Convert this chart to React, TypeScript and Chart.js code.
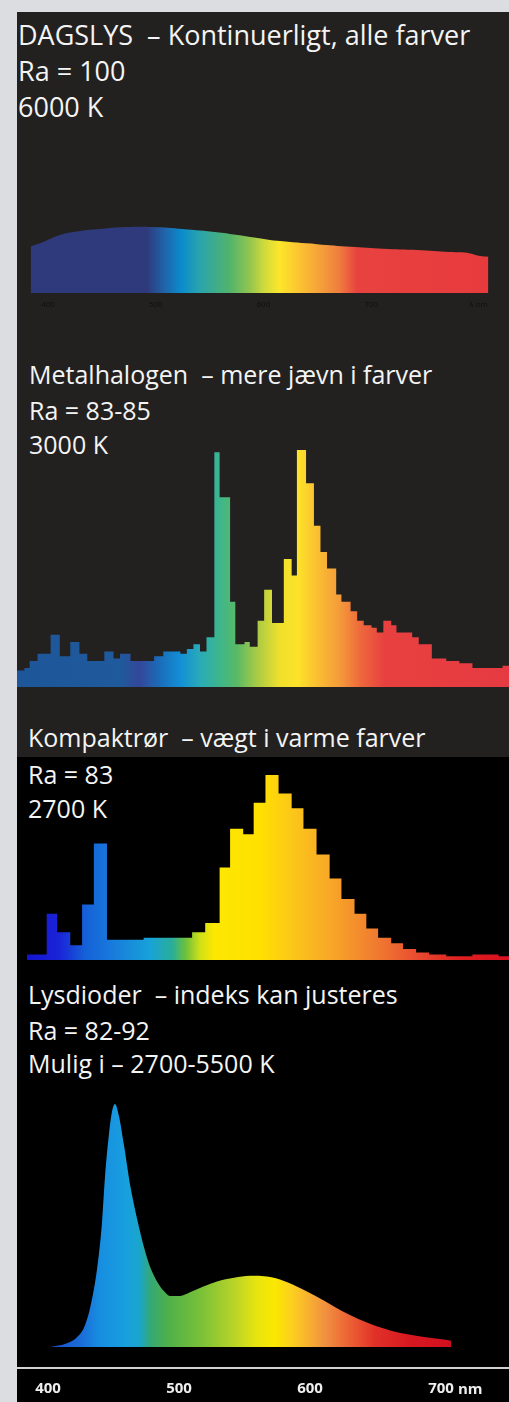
import React, { useEffect, useRef } from 'react';
import { Chart, registerables } from 'chart.js';

Chart.register(...registerables);

// ---------- DATA ----------
// Daylight (continuous spectrum), wavelength in nm, relative intensity
const daylightNm = [384, 395, 411, 430, 448, 473, 498, 525, 557, 588, 613, 650, 681, 711, 743, 773, 789, 801, 809];
const daylightIntensity = [71, 77, 88, 94, 97, 100, 100, 97, 92, 85, 79, 74, 70, 67, 65, 62, 61, 56, 55];
const daylightTicks = [400, 500, 600, 700, 800];
const daylightTickLabels = ['400', '500', '600', '700', 'λ nm'];

// Metal halide: bin edges (nm) and bin values
const metalEdgesNm = [376, 382, 386, 392, 402, 409, 417, 424, 430, 443, 450, 455, 463, 473, 481, 488, 501, 506, 511, 516, 521, 527, 531, 539, 543, 550, 554, 560, 565, 571, 575, 580, 586, 590, 597, 603, 608, 613, 620, 624, 631, 636, 641, 647, 651, 656, 662, 666, 672, 678, 683, 693, 704, 714, 724, 739, 747, 752];
const metalValues = [7, 8, 11, 14, 22, 13, 19, 14, 11, 15, 12, 14, 11, 11, 13, 15, 14, 16, 18, 15, 21, 99, 80, 36, 18, 19, 17, 28, 41, 27, 27, 54, 47, 100, 86, 68, 57, 50, 39, 36, 32, 28, 26, 25, 23, 28, 26, 23, 23, 21, 18, 12, 11, 10, 8, 8, 9];

// Compact fluorescent: bin edges (nm) and bin values
const compactEdgesNm = [384, 399, 407, 417, 426, 435, 445, 454, 464, 473, 483, 492, 501, 510, 520, 531, 539, 549, 557, 566, 576, 586, 595, 605, 615, 624, 634, 643, 652, 662, 671, 681, 691, 704, 724, 744, 752];
const compactValues = [3, 25, 15, 8, 30, 63, 11, 11, 11, 12, 12, 12, 12, 15, 20, 50, 71, 68, 85, 100, 90, 82, 71, 57, 44, 33, 25, 17, 12, 9, 6, 4, 3, 2, 3, 2];

// LED: wavelength (nm) and relative intensity
const ledNm = [401.5, 414.5, 422.1, 427.5, 432.1, 437.4, 441.2, 443.5, 446.6, 448.9, 451.1, 454.2, 458.0, 462.6, 467.9, 473.3, 477.9, 483.2, 488.5, 493.1, 500.8, 508.4, 519.1, 529.0, 542.0, 554.2, 567.2, 574.0, 586.3, 599.2, 612.2, 624.4, 637.4, 650.4, 662.6, 675.6, 688.5, 703.8, 707.6];
const ledIntensity = [0, 1.5, 4, 8, 16, 32, 51, 70, 88, 97, 100, 95, 83, 67, 53, 41, 33, 27, 23, 21, 21, 22.5, 25, 27, 28.5, 29.3, 29, 28.3, 25.8, 22.4, 18.6, 14.8, 11.4, 8.6, 6.6, 5.1, 4, 3, 2.6];
const bottomTicks = [400, 500, 600, 700];
const bottomTickLabels = ['400', '500', '600', '700'];

// ---------- STYLES (colour stops by wavelength) ----------
const daylightStops: [number, string][] = [
  [384, '#2e3a7c'], [492, '#2e3a7c'], [509, '#1f66ac'], [524, '#0a8ccc'], [541, '#2aa4ac'],
  [569, '#52b46a'], [588, '#94c64e'], [601, '#d0da3c'], [615, '#fce62a'], [634, '#fbc232'],
  [653, '#f5a03a'], [671, '#ef7c3e'], [687, '#e8423f'], [809, '#e83a3d'],
];
const metalStops: [number, string][] = [
  [376, '#1d5699'], [455, '#1f5a9c'], [470, '#34479a'], [485, '#1a6cb8'], [501, '#128fd6'],
  [516, '#2aabb8'], [529, '#3ab592'], [544, '#58ba66'], [559, '#a6ca46'], [577, '#f0e02c'],
  [591, '#fde22a'], [604, '#fbc230'], [623, '#f49a3a'], [638, '#ee6a3c'], [657, '#e8403f'], [752, '#e63a42'],
];
const compactStops: [number, string][] = [
  [384, '#1414d0'], [409, '#1a24d8'], [428, '#1560d8'], [447, '#1878dc'], [478, '#18a2d8'],
  [495, '#2aae98'], [505, '#6cc03c'], [516, '#cfe018'], [527, '#fde800'], [562, '#ffe000'],
  [585, '#fcc818'], [615, '#f8a828'], [653, '#f07830'], [684, '#e84830'], [714, '#dc2020'], [752, '#d81020'],
];
const ledStops: [number, string][] = [
  [401, '#1a50c8'], [424, '#1a6ad8'], [440, '#188ee0'], [459, '#189fdf'], [470, '#1aa6cc'],
  [478, '#34a878'], [491, '#4eb04a'], [516, '#78c038'], [542, '#b8d428'], [559, '#e8e410'],
  [573, '#fae800'], [586, '#fcd020'], [599, '#f8b030'], [612, '#f09040'], [624, '#ee7038'],
  [637, '#e85030'], [650, '#e03028'], [676, '#d81820'], [708, '#d01020'],
];

const FONT = '"Open Sans", "Noto Sans", sans-serif';

function makeGradient(chart: any, stops: [number, string][]) {
  const { ctx, chartArea, scales } = chart;
  if (!chartArea || !scales.x) return 'rgba(0,0,0,0)';
  const x0 = chartArea.left;
  const x1 = chartArea.right;
  const g = ctx.createLinearGradient(x0, 0, x1, 0);
  stops.forEach(([nm, c]) => {
    const p = (scales.x.getPixelForValue(nm) - x0) / (x1 - x0);
    g.addColorStop(Math.min(1, Math.max(0, p)), c);
  });
  return g;
}

type AxisSpec = {
  ticks: number[];
  labels: string[];
  color: string;
  size: number;
  weight: string;
  padding: number;
  height: number;
  border: boolean;
};

type SpecProps = {
  left: number;
  top: number;
  width: number;
  height: number;
  xs: number[];
  ys: number[];
  xMin: number;
  xMax: number;
  yMin: number;
  yMax: number;
  stops: [number, string][];
  stepped?: boolean;
  smooth?: 'tension' | 'monotone';
  axis?: AxisSpec;
};

function Spectrum(props: SpecProps) {
  const ref = useRef<HTMLCanvasElement>(null);
  useEffect(() => {
    const canvas = ref.current!;
    const { xs, ys, stops, axis } = props;
    const data = xs.map((x, i) => ({ x, y: ys[Math.min(i, ys.length - 1)] }));
    const chart = new Chart(canvas, {
      type: 'line',
      data: {
        datasets: [
          {
            data,
            stepped: props.stepped ? 'before' : false,
            tension: props.smooth === 'tension' ? 0.4 : 0,
            cubicInterpolationMode: props.smooth === 'monotone' ? 'monotone' : 'default',
            fill: 'origin',
            borderWidth: 0,
            borderColor: 'rgba(0,0,0,0)',
            pointRadius: 0,
            backgroundColor: (c: any) => makeGradient(c.chart, stops),
          } as any,
        ],
      },
      options: {
        animation: false,
        responsive: false,
        maintainAspectRatio: false,
        events: [],
        layout: { padding: 0 },
        plugins: { legend: { display: false }, tooltip: { enabled: false } },
        scales: {
          x: {
            type: 'linear',
            min: props.xMin,
            max: props.xMax,
            display: !!axis,
            grid: { display: false, drawTicks: false },
            border: axis && axis.border ? { display: true, color: '#d2d2d2', width: 2 } : { display: false },
            afterBuildTicks: (s: any) => {
              if (axis) s.ticks = axis.ticks.map((v) => ({ value: v }));
            },
            afterFit: (s: any) => {
              if (axis) s.height = axis.height;
            },
            ticks: axis
              ? {
                  autoSkip: false,
                  maxRotation: 0,
                  minRotation: 0,
                  padding: axis.padding,
                  color: axis.color,
                  font: { family: FONT, size: axis.size, weight: axis.weight as any },
                  callback: (v: any) => {
                    const i = axis.ticks.indexOf(Number(v));
                    return i >= 0 ? axis.labels[i] : '';
                  },
                }
              : {},
          } as any,
          y: { type: 'linear', min: props.yMin, max: props.yMax, display: false },
        },
      },
    });
    return () => chart.destroy();
  }, []);
  return (
    <canvas
      ref={ref}
      width={props.width}
      height={props.height}
      style={{ position: 'absolute', left: props.left, top: props.top, width: props.width, height: props.height }}
    />
  );
}

function Label({ text, left, top, size }: { text: string; left: number; top: number; size: number }) {
  return (
    <div
      style={{
        position: 'absolute',
        left,
        top,
        fontSize: size,
        lineHeight: `${size}px`,
        color: '#f4f4f4',
        whiteSpace: 'pre',
        fontFamily: FONT,
      }}
    >
      {text}
    </div>
  );
}

// x-axis ranges chosen to span the panel width (17..509)
const WIDE_MIN = 400 - 31 / 1.31;
const WIDE_MAX = 400 + 461 / 1.31;
const DAY_MIN = 400 - 31 / 1.0767;
const DAY_MAX = 400 + 461 / 1.0767;

export default function App() {
  return (
    <div
      style={{
        position: 'absolute',
        left: 0,
        top: 0,
        width: 509,
        height: 1402,
        background: '#dcdde0',
        overflow: 'hidden',
        fontFamily: FONT,
      }}
    >
      <div style={{ position: 'absolute', left: 17, top: 12, width: 492, height: 745, background: '#232120' }} />
      <div style={{ position: 'absolute', left: 17, top: 757, width: 492, height: 645, background: '#000000' }} />

      {/* Panel 1: daylight */}
      <Label text="DAGSLYS  – Kontinuerligt, alle farver" left={18} top={21} size={27} />
      <Label text="Ra = 100" left={18} top={57} size={27} />
      <Label text="6000 K" left={18} top={93} size={27} />
      <Spectrum
        left={17}
        top={200}
        width={492}
        height={115}
        xs={daylightNm}
        ys={daylightIntensity}
        xMin={DAY_MIN}
        xMax={DAY_MAX}
        yMin={0}
        yMax={140.9}
        stops={daylightStops}
        smooth="tension"
        axis={{
          ticks: daylightTicks,
          labels: daylightTickLabels,
          color: '#0f0f0f',
          size: 8,
          weight: 'normal',
          padding: 7,
          height: 22,
          border: false,
        }}
      />

      {/* Panel 2: metal halide */}
      <Label text="Metalhalogen  – mere jævn i farver" left={29} top={362} size={25} />
      <Label text="Ra = 83-85" left={29} top={398} size={25} />
      <Label text="3000 K" left={29} top={432} size={25} />
      <Spectrum
        left={17}
        top={440}
        width={492}
        height={247}
        xs={metalEdgesNm}
        ys={metalValues}
        xMin={WIDE_MIN}
        xMax={WIDE_MAX}
        yMin={0}
        yMax={104.2}
        stops={metalStops}
        stepped
      />

      {/* Panel 3: compact fluorescent */}
      <Label text="Kompaktrør  – vægt i varme farver" left={28} top={725} size={25} />
      <Label text="Ra = 83" left={28} top={762} size={25} />
      <Label text="2700 K" left={28} top={796} size={25} />
      <Spectrum
        left={17}
        top={760}
        width={492}
        height={200}
        xs={compactEdgesNm}
        ys={compactValues}
        xMin={WIDE_MIN}
        xMax={WIDE_MAX}
        yMin={0}
        yMax={108.1}
        stops={compactStops}
        stepped
      />

      {/* Panel 4: LED */}
      <Label text="Lysdioder  – indeks kan justeres" left={28} top={982} size={25} />
      <Label text="Ra = 82-92" left={28} top={1018} size={25} />
      <Label text="Mulig i – 2700-5500 K" left={28} top={1051} size={25} />
      <Spectrum
        left={17}
        top={1090}
        width={492}
        height={312}
        xs={ledNm}
        ys={ledIntensity}
        xMin={WIDE_MIN}
        xMax={WIDE_MAX}
        yMin={-8.64}
        yMax={105.76}
        stops={ledStops}
        smooth="monotone"
        axis={{
          ticks: bottomTicks,
          labels: bottomTickLabels,
          color: '#eeeeee',
          size: 15,
          weight: 'bold',
          padding: 12,
          height: 34,
          border: true,
        }}
      />
      <div
        style={{
          position: 'absolute',
          left: 458,
          top: 1379,
          fontSize: 15,
          lineHeight: '18px',
          fontWeight: 700,
          color: '#eeeeee',
          fontFamily: FONT,
        }}
      >
        nm
      </div>
    </div>
  );
}
